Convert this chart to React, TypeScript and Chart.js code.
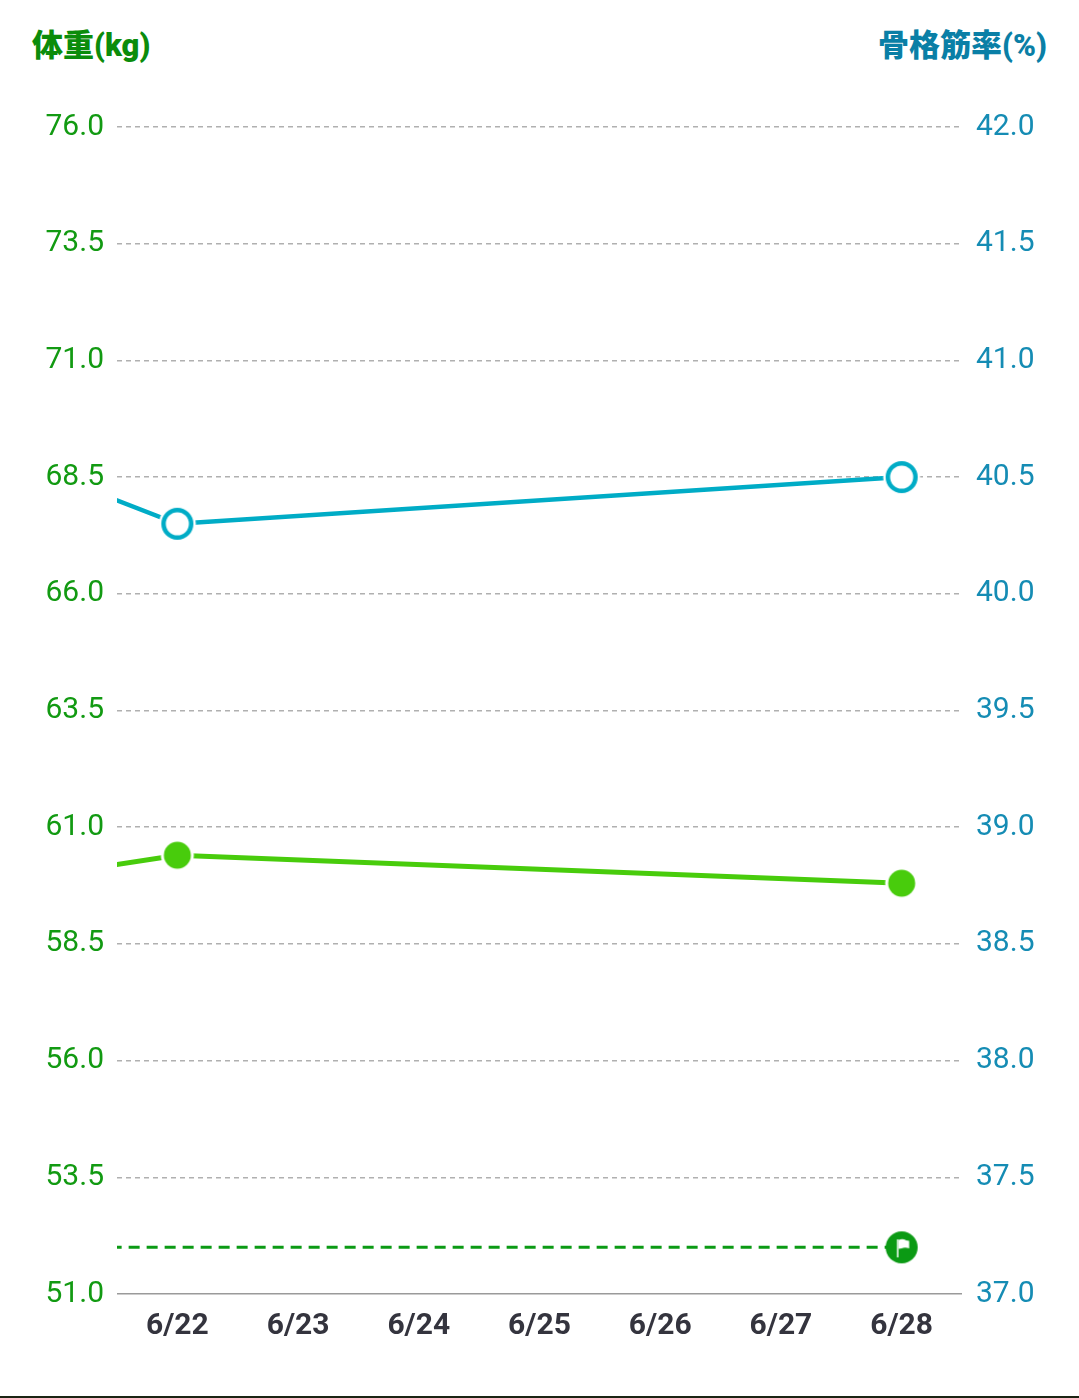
import { useEffect, useRef } from "react";
import { Chart, registerables } from "chart.js";

Chart.register(...registerables);

// data
const dates = ["6/21", "6/22", "6/23", "6/24", "6/25", "6/26", "6/27", "6/28"];
const weightKg = [60.0, 60.4, null, null, null, null, null, 59.8];
const skeletalPct = [40.5, 40.3, null, null, null, null, null, 40.5];
const goalKg = [52.0, null, null, null, null, null, null, 52.0];
const weightTicks = [51.0, 53.5, 56.0, 58.5, 61.0, 63.5, 66.0, 68.5, 71.0, 73.5, 76.0];
const skeletalTicks = [37.0, 37.5, 38.0, 38.5, 39.0, 39.5, 40.0, 40.5, 41.0, 41.5, 42.0];

const WEIGHT_LINE = "#48cc0c";
const SKELETAL_LINE = "#00acc6";
const GOAL = "#0b9a14";
const FONT = "Roboto, 'Noto Sans CJK JP', sans-serif";

function makeRing(color: string) {
  const c = document.createElement("canvas");
  c.width = 40;
  c.height = 40;
  const g = c.getContext("2d")!;
  g.fillStyle = "#fff";
  g.beginPath();
  g.arc(20, 20, 18.5, 0, Math.PI * 2);
  g.fill();
  g.strokeStyle = color;
  g.lineWidth = 4.5;
  g.beginPath();
  g.arc(20, 20, 13.8, 0, Math.PI * 2);
  g.stroke();
  return c;
}

function makeDot(color: string) {
  const c = document.createElement("canvas");
  c.width = 36;
  c.height = 36;
  const g = c.getContext("2d")!;
  g.fillStyle = "#fff";
  g.beginPath();
  g.arc(18, 18, 16.5, 0, Math.PI * 2);
  g.fill();
  g.fillStyle = color;
  g.beginPath();
  g.arc(18, 18, 13.5, 0, Math.PI * 2);
  g.fill();
  return c;
}

function makeFlag(color: string) {
  const c = document.createElement("canvas");
  c.width = 34;
  c.height = 34;
  const g = c.getContext("2d")!;
  g.fillStyle = color;
  g.beginPath();
  g.arc(17, 17, 16, 0, Math.PI * 2);
  g.fill();
  g.strokeStyle = "rgba(255,255,255,0.75)";
  g.lineWidth = 2;
  g.beginPath();
  g.moveTo(13, 9);
  g.lineTo(13, 27);
  g.stroke();
  g.fillStyle = "#fff";
  g.beginPath();
  g.moveTo(14, 9.5);
  g.quadraticCurveTo(18, 8, 21.5, 10);
  g.lineTo(24.5, 10.5);
  g.lineTo(24.5, 18);
  g.quadraticCurveTo(20, 16.5, 17, 18);
  g.lineTo(14, 18.5);
  g.closePath();
  g.fill();
  return c;
}

export default function App() {
  const canvasRef = useRef<HTMLCanvasElement>(null);
  const chartRef = useRef<Chart | null>(null);

  useEffect(() => {
    document.body.style.margin = "0";
    const canvas = canvasRef.current;
    if (!canvas) return;
    chartRef.current?.destroy();

    const ring = makeRing(SKELETAL_LINE);
    const dot = makeDot(WEIGHT_LINE);
    const flag = makeFlag(GOAL);
    const last = dates.length - 1;

    chartRef.current = new Chart(canvas, {
      type: "line",
      data: {
        labels: dates,
        datasets: [
          {
            data: skeletalPct,
            yAxisID: "y2",
            borderColor: SKELETAL_LINE,
            borderWidth: 4.5,
            spanGaps: true,
            pointStyle: ring,
            pointRadius: (ctx: any) => (ctx.raw == null ? 0 : 14),
          },
          {
            data: weightKg,
            yAxisID: "y",
            borderColor: WEIGHT_LINE,
            borderWidth: 5,
            spanGaps: true,
            pointStyle: dot,
            pointRadius: (ctx: any) => (ctx.raw == null ? 0 : 14),
          },
          {
            data: goalKg,
            yAxisID: "y",
            borderColor: GOAL,
            borderWidth: 3,
            borderDash: [11, 7],
            spanGaps: true,
            pointStyle: flag,
            pointRadius: (ctx: any) => (ctx.dataIndex === last ? 16 : 0),
          },
        ],
      },
      options: {
        animation: false,
        responsive: true,
        maintainAspectRatio: false,
        layout: { padding: { top: 127, left: 0, right: 0, bottom: 0 } },
        plugins: {
          legend: { display: false },
          tooltip: { enabled: false },
        },
        scales: {
          x: {
            type: "category",
            min: "6/22",
            offset: true,
            grid: { display: false },
            border: { display: false },
            ticks: {
              color: "#34343e",
              padding: 6,
              font: { family: FONT, size: 30, weight: "bold" },
            },
            afterFit(scale: any) {
              scale.height = 102;
            },
          },
          y: {
            position: "left",
            min: weightTicks[0],
            max: weightTicks[weightTicks.length - 1],
            afterBuildTicks(scale: any) {
              scale.ticks = weightTicks.map((v) => ({ value: v }));
            },
            grid: {
              drawTicks: false,
              color: (ctx: any) => (ctx.tick?.value === weightTicks[0] ? "#9a9a9a" : "#b0b0b0"),
              lineWidth: 1.5,
            },
            border: {
              display: false,
              dash: (ctx: any) => (ctx.tick?.value === weightTicks[0] ? [] : [5, 4]),
            },
            ticks: {
              color: "#129a12",
              padding: 13,
              font: { family: FONT, size: 30 },
              callback: (v: any) => Number(v).toFixed(1),
            },
            afterFit(scale: any) {
              scale.width = 117;
            },
          },
          y2: {
            position: "right",
            min: skeletalTicks[0],
            max: skeletalTicks[skeletalTicks.length - 1],
            afterBuildTicks(scale: any) {
              scale.ticks = skeletalTicks.map((v) => ({ value: v }));
            },
            grid: { display: false, drawTicks: false },
            border: { display: false },
            ticks: {
              color: "#158cb4",
              padding: 14,
              font: { family: FONT, size: 30 },
              callback: (v: any) => Number(v).toFixed(1),
            },
            afterFit(scale: any) {
              scale.width = 117;
            },
          },
        },
      } as any,
    });

    return () => {
      chartRef.current?.destroy();
      chartRef.current = null;
    };
  }, []);

  return (
    <div
      style={{
        position: "relative",
        width: 1079,
        height: 1396,
        borderBottom: "2px solid #1b2413",
        background: "#fff",
        fontFamily: FONT,
      }}
    >
      <div
        style={{
          position: "absolute",
          left: 32,
          top: 26,
          fontSize: 31,
          fontWeight: 900,
          color: "#0b8c0b",
          lineHeight: "40px",
        }}
      >
        体重(kg)
      </div>
      <div
        style={{
          position: "absolute",
          right: 32,
          top: 26,
          fontSize: 31,
          fontWeight: 900,
          color: "#0a7fa6",
          lineHeight: "40px",
        }}
      >
        骨格筋率(%)
      </div>
      <div style={{ position: "absolute", inset: 0 }}>
        <canvas ref={canvasRef} />
      </div>
    </div>
  );
}
